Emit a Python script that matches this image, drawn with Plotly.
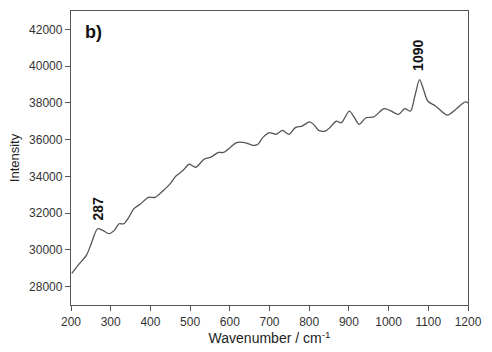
import plotly.graph_objects as go

wavenumber = [202, 218, 239, 251, 267, 280, 296, 309, 321, 333, 346, 358, 375, 395, 412,
              432, 449, 465, 481, 498, 514, 535, 551, 572, 584, 601, 617, 638, 658, 671,
              683, 700, 716, 733, 749, 765, 782, 801, 811, 823, 840, 852, 868, 881, 901,
              914, 926, 943, 963, 988, 1004, 1025, 1041, 1055, 1066, 1078, 1088, 1099,
              1119, 1148, 1169, 1193, 1200]
intensity = [28720, 29170, 29710, 30340, 31150, 31060, 30880, 31060, 31420, 31420, 31780,
             32230, 32500, 32860, 32860, 33220, 33580, 34030, 34300, 34660, 34490, 34935,
             35030, 35300, 35300, 35570, 35840, 35840, 35690, 35750, 36110, 36380, 36290,
             36500, 36290, 36650, 36740, 36970, 36830, 36520, 36460, 36650, 37000, 36920,
             37550, 37190, 36830, 37190, 37240, 37680, 37580, 37370, 37690, 37550, 38360,
             39260, 38720, 38090, 37820, 37330, 37640, 38050, 38000]

peak_labels = ["287", "1090"]
peak_x = [267, 1074]
peak_y = [32230, 40610]

x_ticks = [200, 300, 400, 500, 600, 700, 800, 900, 1000, 1100, 1200]
y_ticks = [28000, 30000, 32000, 34000, 36000, 38000, 40000, 42000]

FONT = "Liberation Sans, Arial"

fig = go.Figure()
fig.add_trace(go.Scatter(x=wavenumber, y=intensity, mode="lines",
                         line=dict(color="#555555", width=1.3, shape="spline", smoothing=0.8),
                         showlegend=False))

for lbl, px, py in zip(peak_labels, peak_x, peak_y):
    fig.add_annotation(x=px, y=py, text=f"<b>{lbl}</b>", showarrow=False, textangle=-90,
                       font=dict(size=14, color="#111111", family=FONT))

fig.add_annotation(xref="paper", yref="paper", x=0.03, y=0.93, xanchor="left", yanchor="middle",
                   text="<b>b)</b>", showarrow=False,
                   font=dict(size=18, color="#111111", family=FONT))

axis_common = dict(showline=True, linecolor="#555555", linewidth=1.3, mirror=True,
                   showgrid=False, zeroline=False, ticks="outside", ticklen=5,
                   tickcolor="#555555", tickwidth=1.2, tickformat="d",
                   tickfont=dict(size=12, color="#333333", family=FONT))

fig.update_xaxes(range=[200, 1200], tickvals=x_ticks,
                 title=dict(text="Wavenumber / cm<sup>-1</sup>", standoff=4,
                            font=dict(size=14, color="#222222", family=FONT)),
                 **axis_common)
fig.update_yaxes(range=[27000, 43000], tickvals=y_ticks,
                 title=dict(text="Intensity", standoff=6,
                            font=dict(size=13, color="#222222", family=FONT)),
                 **axis_common)

fig.update_layout(width=492, height=352, margin=dict(l=71, r=16, t=10, b=45),
                  plot_bgcolor="white", paper_bgcolor="white")

fig.write_html("out.html")
